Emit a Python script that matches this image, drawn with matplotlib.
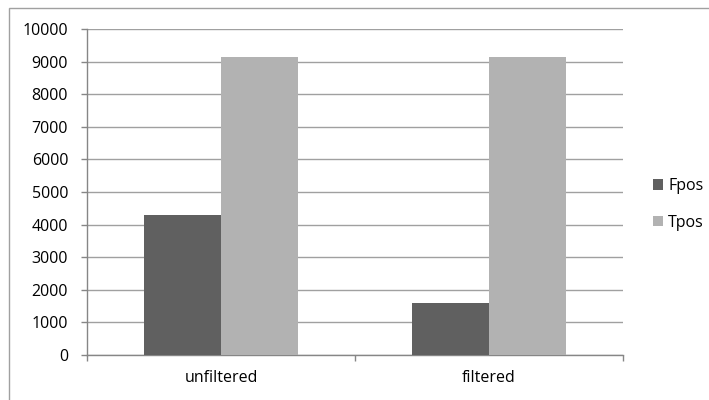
import matplotlib
matplotlib.use("Agg")
import matplotlib.pyplot as plt
from matplotlib.patches import Rectangle
import numpy as np

categories = ["unfiltered", "filtered"]
fpos = [4290, 1610]
tpos = [9130, 9130]
series_names = ["Fpos", "Tpos"]
y_ticks = [0, 1000, 2000, 3000, 4000, 5000, 6000, 7000, 8000, 9000, 10000]

plt.rcParams["font.family"] = ["Open Sans", "DejaVu Sans"]
plt.rcParams["font.size"] = 11.5

fig = plt.figure(figsize=(7.09, 4.0), dpi=100)
ax = fig.add_axes([87 / 709, 45 / 400, 536 / 709, 326 / 400])

x = np.arange(len(categories))
w = 1 / 3.5
ax.bar(x - w / 2, fpos, width=w, color="#606060", label=series_names[0], zorder=3)
ax.bar(x + w / 2, tpos, width=w, color="#b2b2b2", label=series_names[1], zorder=3)

ax.set_xlim(-0.5, len(categories) - 0.5)
ax.set_ylim(0, 10000)
ax.set_yticks(y_ticks)
ax.set_yticklabels([str(v) for v in y_ticks])
ax.yaxis.grid(True, color="#a0a0a0", linewidth=1.0, zorder=0)

# category boundaries get tick marks, names sit at the centres
ax.set_xticks(np.arange(-0.5, len(categories), 1.0))
ax.set_xticklabels([])
ax.set_xticks(x, minor=True)
ax.set_xticklabels(categories, minor=True)
ax.tick_params(axis="x", which="major", length=4.5, color="#868686", width=1.0)
ax.tick_params(axis="x", which="minor", length=0, pad=11)
ax.tick_params(axis="y", length=4.5, color="#868686", width=1.0, pad=9)

for s in ["top", "right"]:
    ax.spines[s].set_visible(False)
for s in ["left", "bottom"]:
    ax.spines[s].set_color("#868686")
    ax.spines[s].set_linewidth(1.0)

fig.legend(loc="center left", bbox_to_anchor=(653 / 709, 1 - 204.5 / 400),
           frameon=False, handlelength=0.6, handleheight=0.6,
           handletextpad=0.35, labelspacing=1.3, borderpad=0, borderaxespad=0)

# outer chart border
fig.patches.append(Rectangle((8.5 / 709, -0.05), 1.0, (400 - 7.5) / 400 + 0.05,
                             transform=fig.transFigure, fill=False,
                             edgecolor="#a0a0a0", linewidth=1.0))

fig.savefig("out.png", dpi=100)
